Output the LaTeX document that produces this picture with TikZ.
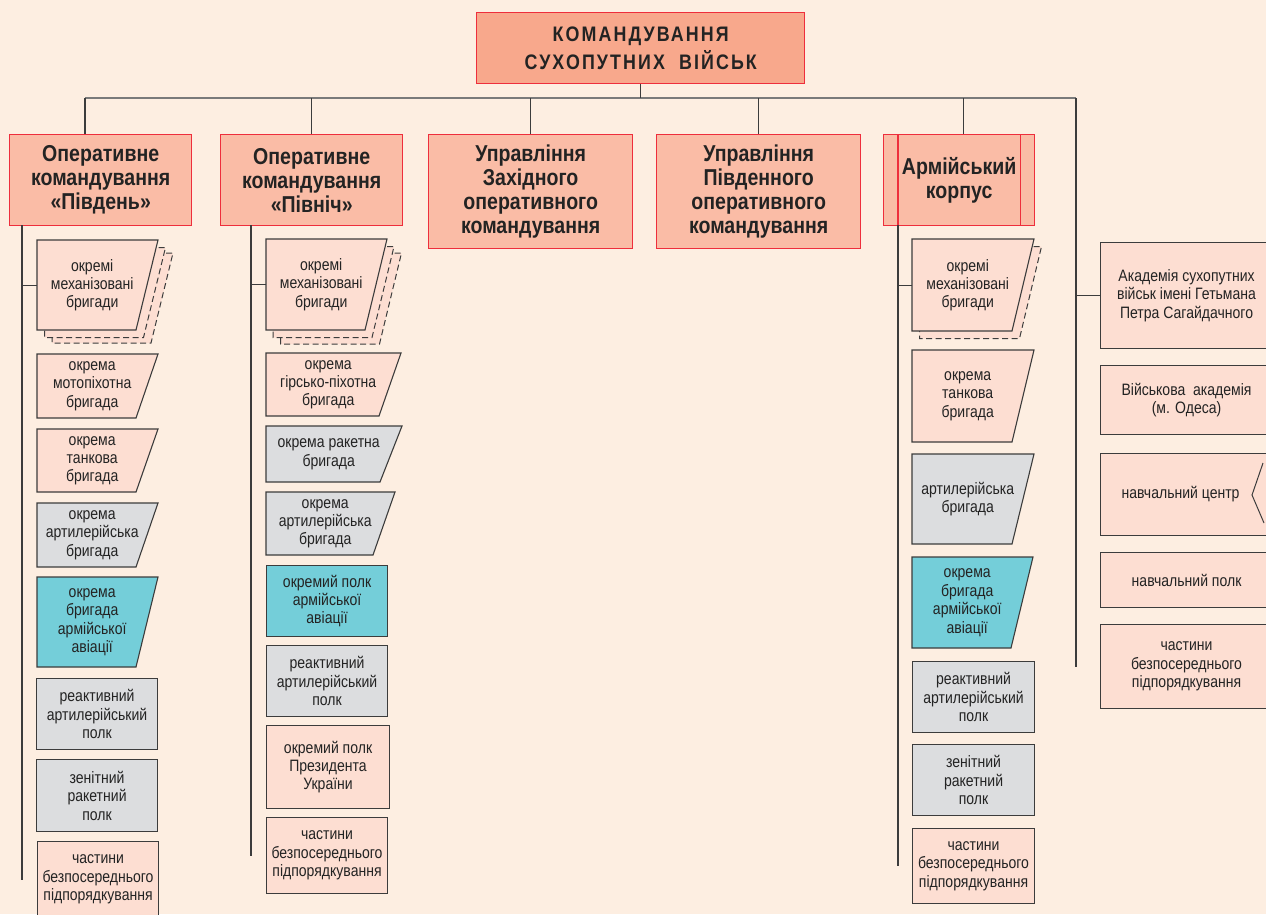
\documentclass[tikz,border=0pt]{standalone}
\usepackage{fontspec}
\setmainfont{Liberation Sans}[FakeStretch=0.85]
\usetikzlibrary{positioning,calc}

\definecolor{paper}{HTML}{FDEEE1}
\definecolor{hq}{HTML}{F8A88C}
\definecolor{cmd}{HTML}{FABCA6}
\definecolor{unitc}{HTML}{FDDED2}
\definecolor{grayc}{HTML}{DCDDDF}
\definecolor{avia}{HTML}{74CED9}
\definecolor{redl}{HTML}{EE2E3C}
\definecolor{ink}{HTML}{232323}
\definecolor{wire}{HTML}{3C3C3C}
\definecolor{busc}{HTML}{7A7A7A}

% slanted brigade box: name, left, top, bottom, top right, fill, text
\newcommand{\brig}[7]{%
  \filldraw[fill=#6, draw=wire, line width=1.1pt] (#2,#3) -- (#5,#3) -- (#5-22,#4) -- (#2,#4) -- cycle;
  \node[txt, minimum width=#5-#2-11, minimum height=#4-#3, anchor=north west] (#1) at (#2,#3) {#7};}
% dashed copy behind a brigade box
\newcommand{\ghost}[6]{%
  \filldraw[fill=unitc, shadowline, shift={(#5,#6)}] (#1,#2) -- (#4,#2) -- (#4-22,#3) -- (#1,#3) -- cycle;}

\begin{document}
\begin{tikzpicture}[
  x=1pt, y=-1pt,
  txt/.style={inner sep=0pt, align=center, text=ink, font=\fontsize{16.5}{18.4}\selectfont},
  hqbox/.style={draw=redl, line width=1.4pt, fill=hq, inner sep=0pt, align=center, text=ink,
                anchor=north west, font={\fontsize{21}{28.5}\selectfont\addfontfeatures{LetterSpace=10}\bfseries}},
  cmdbox/.style={draw=redl, line width=1.4pt, fill=cmd, inner sep=0pt, align=center, text=ink,
                 anchor=north west, font=\fontsize{23}{24}\selectfont\bfseries},
  unit/.style={txt, draw=wire, line width=1.1pt, anchor=north west},
  shadowline/.style={draw=wire, line width=1pt, dash pattern=on 6pt off 3.5pt},
  link/.style={draw=wire, line width=1.2pt},
]
  \fill[paper] (0,0) rectangle (1266,914);
  \useasboundingbox (0,0) rectangle (1266,914);

  % top level
  \node[hqbox, minimum width=328, minimum height=71] (ksv) at (476,12)
        {КОМАНДУВАННЯ\\СУХОПУТНИХ\ \ ВІЙСЬК};
  \node[cmdbox, minimum width=182, minimum height=91] (okS) at (9,134)
        {Оперативне\\командування\\«Південь»};
  \node[cmdbox, minimum width=182, minimum height=91] (okN) at (220,134)
        {Оперативне\\командування\\«Північ»};
  \node[cmdbox, minimum width=204, minimum height=114] (uzok) at (428,134)
        {Управління\\Західного\\оперативного\\командування};
  \node[cmdbox, minimum width=204, minimum height=114] (upok) at (656,134)
        {Управління\\Південного\\оперативного\\командування};
  \node[cmdbox, minimum width=151, minimum height=91] (ak) at (883,134)
        {Армійський\\корпус};
  \draw[redl, line width=1.4pt] ([xshift=15pt]ak.north west) -- ([xshift=15pt]ak.south west)
        ([xshift=-15pt]ak.north east) -- ([xshift=-15pt]ak.south east);

  \coordinate (busL) at (85,98);
  \coordinate (busR) at (1076,98);
  \draw[busc, line width=1.5pt] (busL) -- (busR);
  \draw[link] (ksv.south) -- (ksv.south |- busL);
  \draw[link] (busL) -- (busL |- okS.north);
  \foreach \n in {okN,uzok,upok}
    \draw[link] (\n.north |- busL) -- (\n.north);
  \draw[link] ([xshift=4pt]ak.north |- busL) -- ([xshift=4pt]ak.north);

  % «Південь»
  \ghost{37}{240}{330}{158}{15}{13}
  \ghost{37}{240}{330}{158}{7.5}{7.5}
  \brig{s1}{37}{240}{330}{158}{unitc}{окремі\\механізовані\\бригади}
  \brig{s2}{37}{354}{418}{158}{unitc}{окрема\\мотопіхотна\\бригада}
  \brig{s3}{37}{429}{492}{158}{unitc}{окрема\\танкова\\бригада}
  \brig{s4}{37}{503}{567}{158}{grayc}{окрема\\артилерійська\\бригада}
  \brig{s5}{37}{577}{667}{158}{avia}{окрема\\бригада\\армійської\\авіації}
  \node[unit, fill=grayc, minimum width=121, minimum height=71] (s6) at (36,678)
        {реактивний\\артилерійський\\полк};
  \node[unit, fill=grayc, minimum width=121, minimum height=72] (s7) at (36,759)
        {зенітний\\ракетний\\полк};
  \node[unit, fill=unitc, minimum width=121, minimum height=76] (s8) at (37,841)
        {частини\\безпосереднього\\підпорядкування};
  \coordinate (vS) at (22,225);
  \draw[link] (vS) -- (vS |- s8.west);
  \foreach \n in {s1,...,s8}
    \draw[link] (vS |- \n.west) -- (\n.west);

  % «Північ»
  \ghost{266}{239}{330}{387}{14.5}{14}
  \ghost{266}{239}{330}{387}{7}{7.5}
  \brig{n1}{266}{239}{330}{387}{unitc}{окремі\\механізовані\\бригади}
  \brig{n2}{266}{353}{416}{401}{unitc}{окрема\\гірсько-піхотна\\бригада}
  \brig{n3}{266}{426}{482}{402}{grayc}{окрема ракетна\\бригада}
  \brig{n4}{266}{492}{555}{395}{grayc}{окрема\\артилерійська\\бригада}
  \node[unit, fill=avia, minimum width=121, minimum height=71] (n5) at (266,565)
        {окремий полк\\армійської\\авіації};
  \node[unit, fill=grayc, minimum width=121, minimum height=71] (n6) at (266,645)
        {реактивний\\артилерійський\\полк};
  \node[unit, fill=unitc, minimum width=123, minimum height=83] (n7) at (266,725)
        {окремий полк\\Президента\\України};
  \node[unit, fill=unitc, minimum width=121, minimum height=76] (n8) at (266,817)
        {частини\\безпосереднього\\підпорядкування};
  \coordinate (vN) at (251,225);
  \draw[link] (vN) -- (vN |- n8.west);
  \foreach \n in {n1,...,n8}
    \draw[link] (vN |- \n.west) -- (\n.west);

  % армійський корпус
  \ghost{912}{239}{331}{1034}{7.5}{7.5}
  \brig{a1}{912}{239}{331}{1034}{unitc}{окремі\\механізовані\\бригади}
  \brig{a2}{912}{350}{442}{1034}{unitc}{окрема\\танкова\\бригада}
  \brig{a3}{912}{454}{544}{1034}{grayc}{артилерійська\\бригада}
  \brig{a4}{912}{557}{648}{1033}{avia}{окрема\\бригада\\армійської\\авіації}
  \node[unit, fill=grayc, minimum width=122, minimum height=71] (a5) at (912,661)
        {реактивний\\артилерійський\\полк};
  \node[unit, fill=grayc, minimum width=122, minimum height=71] (a6) at (912,744)
        {зенітний\\ракетний\\полк};
  \node[unit, fill=unitc, minimum width=122, minimum height=75] (a7) at (912,828)
        {частини\\безпосереднього\\підпорядкування};
  \coordinate (vA) at (898,225);
  \draw[link] (vA) -- (vA |- a7.west);
  \foreach \n in {a1,...,a7}
    \draw[link] (vA |- \n.west) -- (\n.west);

  % академії та центри
  \node[unit, fill=unitc, minimum width=172, minimum height=106] (r1) at (1100,242)
        {Академія сухопутних\\військ імені Гетьмана\\Петра Сагайдачного};
  \node[unit, fill=unitc, minimum width=172, minimum height=69] (r2) at (1100,365)
        {Військова\ \ академія\\(м. Одеса)};
  \node[unit, fill=unitc, minimum width=172, minimum height=82] (r3) at (1100,453) {};
  \node[txt] at ([xshift=-6pt]r3.center) {навчальний центр};
  \draw[wire, line width=1pt] (1263,463) -- (1252,495) -- (1264,523);
  \node[unit, fill=unitc, minimum width=172, minimum height=55] (r4) at (1100,552)
        {навчальний полк};
  \node[unit, fill=unitc, minimum width=172, minimum height=84] (r5) at (1100,624)
        {частини\\безпосереднього\\підпорядкування};
  \draw[link] (busR) -- (busR |- r5.west);
  \foreach \n in {r1,...,r5}
    \draw[link] (busR |- \n.west) -- (\n.west);
\end{tikzpicture}
\end{document}
